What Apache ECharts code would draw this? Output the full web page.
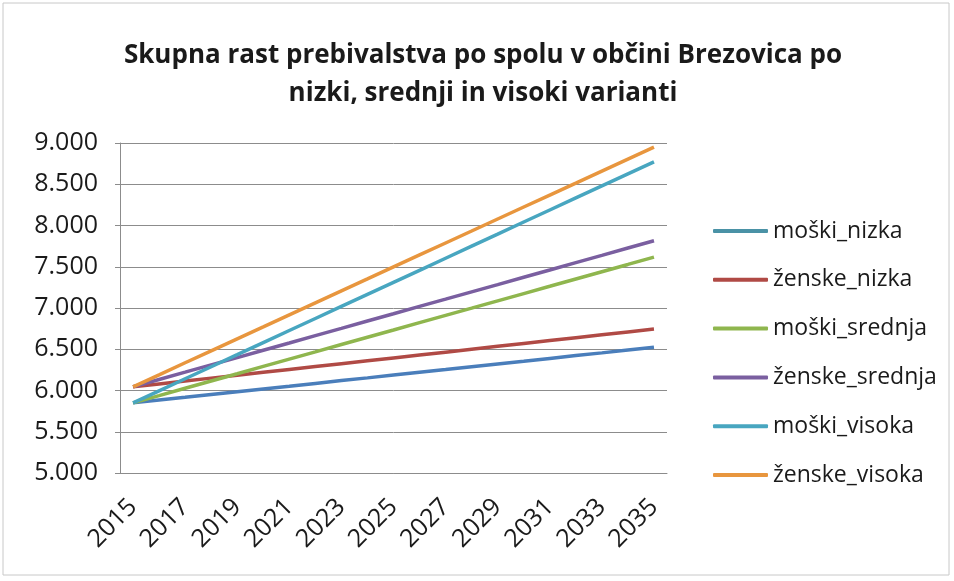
<!DOCTYPE html>
<html lang="sl">
<head>
    <meta charset="UTF-8">
    <title>echarts</title>
    <script src="https://cdn.jsdelivr.net/npm/echarts@6/dist/echarts.min.js"></script>
    <style>
        body { margin: 0; background: #fff; }
    </style>
</head>
<body>
    <div id="charts1" style="width: 954px;height:581px;"></div>
    <script type="text/javascript">
        // leta
        var years = ['2015', '2016', '2017', '2018', '2019', '2020', '2021', '2022', '2023', '2024',
            '2025', '2026', '2027', '2028', '2029', '2030', '2031', '2032', '2033', '2034', '2035'];

        // nizka varianta
        var moskiNizka = [5850, 5884, 5917, 5951, 5985, 6019, 6052, 6086, 6120, 6153, 6187,
            6221, 6254, 6288, 6322, 6355, 6389, 6423, 6456, 6490, 6524];
        var zenskeNizka = [6045, 6080, 6115, 6150, 6185, 6220, 6255, 6290, 6325, 6360, 6395,
            6430, 6465, 6500, 6535, 6570, 6605, 6640, 6675, 6710, 6745];
        // srednja varianta
        var moskiSrednja = [5850, 5938, 6027, 6115, 6203, 6292, 6380, 6468, 6557, 6645, 6733,
            6822, 6910, 6998, 7087, 7175, 7263, 7352, 7440, 7528, 7617];
        var zenskeSrednja = [6045, 6134, 6222, 6311, 6399, 6488, 6576, 6665, 6753, 6842, 6930,
            7019, 7107, 7196, 7284, 7373, 7461, 7550, 7638, 7727, 7815];
        // visoka varianta
        var moskiVisoka = [5850, 5996, 6142, 6288, 6434, 6581, 6727, 6873, 7019, 7165, 7311,
            7457, 7603, 7749, 7895, 8042, 8188, 8334, 8480, 8626, 8772];
        var zenskeVisoka = [6045, 6190, 6336, 6481, 6626, 6771, 6917, 7062, 7207, 7352, 7498,
            7643, 7788, 7933, 8079, 8224, 8369, 8514, 8660, 8805, 8950];

        var names = ['moški_nizka', 'ženske_nizka', 'moški_srednja', 'ženske_srednja', 'moški_visoka', 'ženske_visoka'];
        var colors = ['#4a7ebb', '#b04a45', '#8fb64e', '#7a5fa0', '#48a6c0', '#e8963e'];
        var values = [moskiNizka, zenskeNizka, moskiSrednja, zenskeSrednja, moskiVisoka, zenskeVisoka];

        var font = '"Open Sans", "Liberation Sans", sans-serif';
        var myChart = echarts.init(document.getElementById('charts1'));

        var series = [];
        for (var i = 0; i < names.length; i++) {
            series.push({
                name: names[i],
                type: 'line',
                data: values[i],
                symbol: 'none',
                color: colors[i],
                lineStyle: { width: 3.5 }
            });
        }

        var legendData = names.map(function (n, i) {
            // v legendi je moški_nizka prikazan v modrozeleni barvi
            if (i === 0) return { name: n, itemStyle: { color: '#4a92a6' } };
            return { name: n };
        });

        option = {
            animation: false,
            textStyle: { fontFamily: font },
            title: {
                text: 'Skupna rast prebivalstva po spolu v občini Brezovica po\nnizki, srednji in visoki varianti',
                left: 478,
                textAlign: 'center',
                top: 32,
                textStyle: {
                    fontFamily: font,
                    fontSize: 26,
                    fontWeight: 'bold',
                    color: '#1a1a1a',
                    lineHeight: 38
                }
            },
            graphic: [{
                type: 'rect',
                shape: { x: 3, y: 3, width: 946, height: 572 },
                style: { fill: 'none', stroke: '#c8c8c8', lineWidth: 1 }
            }],
            legend: {
                orient: 'vertical',
                left: 708,
                top: 214,
                icon: 'roundRect',
                itemWidth: 55,
                itemHeight: 4,
                itemGap: 24.8,
                data: legendData,
                textStyle: { fontFamily: font, fontSize: 23, color: '#1a1a1a', lineHeight: 24 }
            },
            grid: { left: 120, right: 287, top: 143, bottom: 108 },
            xAxis: {
                type: 'category',
                data: years,
                boundaryGap: true,
                axisLine: { lineStyle: { color: '#8c8c8c', width: 1 } },
                axisTick: { show: false },
                axisLabel: {
                    interval: 1,
                    rotate: 45,
                    fontSize: 25,
                    color: '#1a1a1a',
                    margin: 30
                }
            },
            yAxis: {
                type: 'value',
                min: 5000,
                max: 9000,
                interval: 500,
                axisLine: { show: true, lineStyle: { color: '#8c8c8c', width: 1 } },
                axisTick: { show: true, length: 5, lineStyle: { color: '#8c8c8c' } },
                splitLine: { lineStyle: { color: '#8c8c8c', width: 1 } },
                axisLabel: {
                    fontSize: 25,
                    color: '#1a1a1a',
                    margin: 22,
                    formatter: function (v) { return (v / 1000).toFixed(3); }
                }
            },
            series: series
        };
        myChart.setOption(option);
    </script>
</body>
</html>
